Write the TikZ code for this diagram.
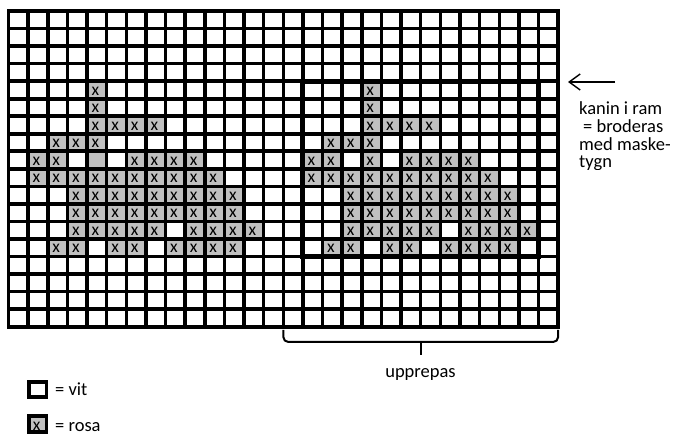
\documentclass[tikz,border=0pt]{standalone}
\usepackage{fontspec}
\setmainfont{Carlito}
\usetikzlibrary{arrows.meta}
\definecolor{rosa}{HTML}{C0C0C0}
\tikzset{
  vline/.style={line width=3.5pt, black, line cap=rect},
  hline/.style={line width=3.7pt, black, line cap=rect},
  framebox/.style={line width=5pt, black, line join=miter},
  cellx/.style={font=\fontsize{17.5}{17.5}\selectfont, inner sep=0pt},
  lbl/.style={font=\fontsize{18.5}{18.5}\selectfont, inner sep=0pt, anchor=base west},
  bracket/.style={line width=2pt, black},
  legendbox/.style={line width=3.8pt, black},
}
\begin{document}
\begin{tikzpicture}[x=1pt,y=-1pt]
\useasboundingbox (0,0) rectangle (678,435);
\def\W{19.63}
\def\H{17.54}
% coloured cells of both rabbits
\foreach \o in {0,14}{
  \foreach \r/\cols in {4/{4},5/{4},6/{4,5,6,7},7/{2,3,4},8/{1,2,6,7,8,9},
      9/{1,2,3,4,5,6,7,8,9,10},10/{3,4,5,6,7,8,9,10,11},11/{3,4,5,6,7,8,9,10,11},
      12/{3,4,5,6,7,9,10,11,12},13/{2,3,5,6,8,9,10,11}}{
    \foreach \c in \cols {
      \pgfmathtruncatemacro\cc{\c+\o}
      \fill[rosa] (8.5+\cc*\W, 11+\r*\H) rectangle ++(\W,\H);
      \node[cellx] (x\cc-\r) at (8.5+\cc*\W+8.4, 11+\r*\H+9.8) {x};
    }
  }
}
% grey cell without x (left rabbit) and with x (right rabbit)
\fill[rosa] (8.5+4*\W, 11+8*\H) rectangle ++(\W,\H);
\fill[rosa] (8.5+18*\W, 11+8*\H) rectangle ++(\W,\H);
\node[cellx] (x18-8) at (8.5+18*\W+8.4, 11+8*\H+9.8) {x};
% grid
\foreach \c in {0,...,28} \draw[vline] (8.5+\c*\W,11) -- (8.5+\c*\W,11+18*\H);
\foreach \r in {0,...,18} \draw[hline] (8.5,11+\r*\H) -- (8.5+28*\W,11+\r*\H);
% frame
\draw[framebox] (8.5+15*\W, 11+4*\H) rectangle (8.5+27*\W, 11+14*\H);
% bracket
\coordinate (brL) at (8.5+14*\W, 330);
\coordinate (brR) at (8.5+28*\W, 330);
\coordinate (brM) at (420.5, 342);
\coordinate (brT) at (420.5, 355);
\draw[bracket, rounded corners=5pt] (brL) |- (brM) -| (brR);
\draw[bracket] (brM) -- (brT);
\node[lbl, anchor=base] (upp) at (420.5,378) {upprepas};
% arrow and note
\coordinate (arS) at (615,82);
\coordinate (arE) at (568,82);
\draw[line width=1.4pt, -{Straight Barb[length=11pt,width=16pt,line width=1.4pt]}] (arS) -- (arE);
\node[lbl] (n1) at (579,114.5) {kanin i ram};
\node[lbl] (n2) at (583,132.3) {= broderas};
\node[lbl] (n3) at (579,150.1) {med maske-};
\begin{scope}
\clip (560,152) rectangle (678,169.5);
\node[lbl] (n4) at (579,167.9) {tygn};
\end{scope}
% legend
\draw[legendbox, fill=white] (28.8,381.8) rectangle (46.4,397.2);
\node[lbl] (lv) at (55,396) {= vit};
\draw[legendbox, fill=rosa] (28.8,416.3) rectangle (46.4,431.7);
\node[cellx] (lx) at (36.6,426.5) {x};
\node[lbl] (lr) at (55,431.5) {= rosa};
\end{tikzpicture}
\end{document}
